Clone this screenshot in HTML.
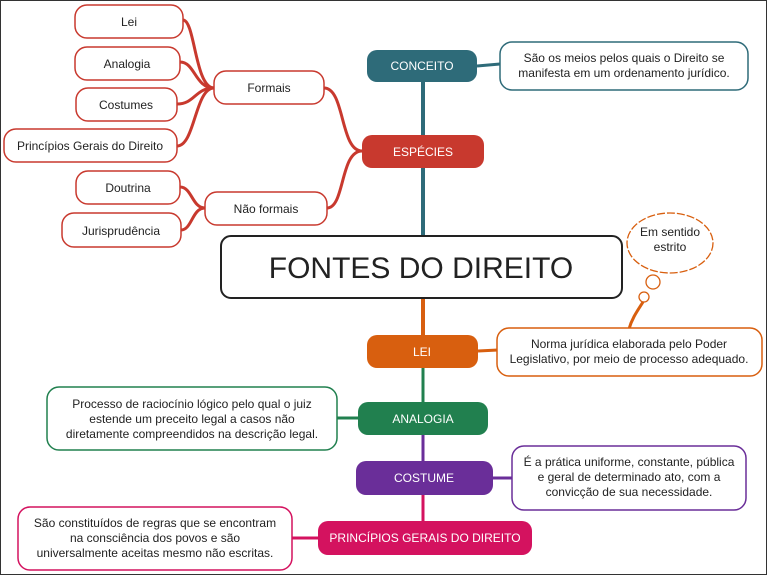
<!DOCTYPE html>
<html><head><meta charset="utf-8"><style>
html,body{margin:0;padding:0;background:#fff}
svg{display:block}
text{font-family:"Liberation Sans",sans-serif;font-size:12px;fill:#222;text-anchor:middle}
.w{fill:#fff;font-size:12px}
</style></head><body>
<svg width="768" height="576" viewBox="0 0 768 576">
<rect x="0.5" y="0.5" width="766" height="574" fill="#fff" stroke="#333" stroke-width="1"/>
<line x1="423" y1="80" x2="423" y2="240" stroke="#2e6b79" stroke-width="4"/>
<line x1="423" y1="296" x2="423" y2="340" stroke="#d85f0f" stroke-width="4"/>
<line x1="423" y1="366" x2="423" y2="405" stroke="#21804f" stroke-width="3"/>
<line x1="423" y1="433" x2="423" y2="463" stroke="#6a2e99" stroke-width="3"/>
<line x1="423" y1="493" x2="423" y2="523" stroke="#d4125f" stroke-width="3"/>
<path d="M477 66 L500 64" stroke="#2e6b79" stroke-width="3" fill="none"/>
<path d="M478 351 L498 350" stroke="#d85f0f" stroke-width="3" fill="none"/>
<path d="M337 418 L358 418" stroke="#21804f" stroke-width="3" fill="none"/>
<path d="M493 478 L512 478" stroke="#6a2e99" stroke-width="3" fill="none"/>
<path d="M292 538 L318 538" stroke="#d4125f" stroke-width="3" fill="none"/>
<g stroke="#c8392e" stroke-width="3" fill="none">
<path d="M362 151 C340 151 345 88 324 88"/>
<path d="M362 151 C340 151 345 208 327 208"/>
<path d="M214 88 C195 88 195 20 183 20"/>
<path d="M214 88 C195 88 195 62 180 62"/>
<path d="M214 88 C195 88 195 104 177 104"/>
<path d="M214 88 C195 88 195 146 177 146"/>
<path d="M205 208 C192 208 192 187 180 187"/>
<path d="M205 208 C192 208 192 230 181 230"/>
</g>
<g fill="#fff" stroke="#c8392e" stroke-width="1.5">
<rect x="75" y="5" width="108" height="33" rx="12"/>
<rect x="75" y="47" width="105" height="33" rx="12"/>
<rect x="76" y="88" width="101" height="33" rx="12"/>
<rect x="4" y="129" width="173" height="33" rx="12"/>
<rect x="214" y="71" width="110" height="33" rx="12"/>
<rect x="76" y="171" width="104" height="33" rx="12"/>
<rect x="62" y="213" width="119" height="34" rx="12"/>
<rect x="205" y="192" width="122" height="33" rx="12"/>
</g>
<text x="129" y="26">Lei</text>
<text x="127" y="68">Analogia</text>
<text x="126" y="109">Costumes</text>
<text x="90" y="150">Princípios Gerais do Direito</text>
<text x="269" y="92">Formais</text>
<text x="128" y="192">Doutrina</text>
<text x="121" y="235">Jurisprudência</text>
<text x="266" y="213">Não formais</text>
<rect x="367" y="50" width="110" height="32" rx="10" fill="#2e6b79"/>
<text class="w" x="422" y="70">CONCEITO</text>
<rect x="362" y="135" width="122" height="33" rx="10" fill="#c8392e"/>
<text class="w" x="423" y="156">ESPÉCIES</text>
<rect x="367" y="335" width="111" height="33" rx="10" fill="#d85f0f"/>
<text class="w" x="422" y="356">LEI</text>
<rect x="358" y="402" width="130" height="33" rx="10" fill="#21804f"/>
<text class="w" x="423" y="423">ANALOGIA</text>
<rect x="356" y="461" width="137" height="34" rx="10" fill="#6a2e99"/>
<text class="w" x="424" y="482">COSTUME</text>
<rect x="318" y="521" width="214" height="34" rx="10" fill="#d4125f"/>
<text class="w" x="425" y="542">PRINCÍPIOS GERAIS DO DIREITO</text>
<rect x="221" y="236" width="401" height="62" rx="10" fill="#fff" stroke="#222" stroke-width="2"/>
<text x="421" y="278" style="font-size:30px">FONTES DO DIREITO</text>
<rect x="500" y="42" width="248" height="48" rx="12" fill="#fff" stroke="#2e6b79" stroke-width="1.5"/>
<text x="624" y="62">São os meios pelos quais o Direito se</text>
<text x="624" y="77">manifesta em um ordenamento jurídico.</text>
<path d="M629 329 C632 318 638 310 643 302" stroke="#d85f0f" stroke-width="3" fill="none"/>
<circle cx="644" cy="297" r="5" fill="#fff" stroke="#d85f0f" stroke-width="1.3"/>
<circle cx="653" cy="282" r="7" fill="#fff" stroke="#d85f0f" stroke-width="1.3"/>
<ellipse cx="670" cy="243" rx="43" ry="30" fill="#fff" stroke="#d85f0f" stroke-width="1.3" stroke-dasharray="8 2"/>
<text x="670" y="236">Em sentido</text>
<text x="670" y="251">estrito</text>
<rect x="497" y="328" width="265" height="48" rx="12" fill="#fff" stroke="#d85f0f" stroke-width="1.5"/>
<text x="629" y="348">Norma jurídica elaborada pelo Poder</text>
<text x="629" y="363">Legislativo, por meio de processo adequado.</text>
<rect x="47" y="387" width="290" height="63" rx="12" fill="#fff" stroke="#21804f" stroke-width="1.5"/>
<text x="192" y="408">Processo de raciocínio lógico pelo qual o juiz</text>
<text x="192" y="423">estende um preceito legal a casos não</text>
<text x="192" y="438">diretamente compreendidos na descrição legal.</text>
<rect x="512" y="446" width="234" height="64" rx="12" fill="#fff" stroke="#6a2e99" stroke-width="1.5"/>
<text x="629" y="466">É a prática uniforme, constante, pública</text>
<text x="629" y="481">e geral de determinado ato, com a</text>
<text x="629" y="496">convicção de sua necessidade.</text>
<rect x="18" y="507" width="274" height="63" rx="12" fill="#fff" stroke="#d4125f" stroke-width="1.5"/>
<text x="155" y="527">São constituídos de regras que se encontram</text>
<text x="155" y="542">na consciência dos povos e são</text>
<text x="155" y="557">universalmente aceitas mesmo não escritas.</text>
</svg>
</body></html>
